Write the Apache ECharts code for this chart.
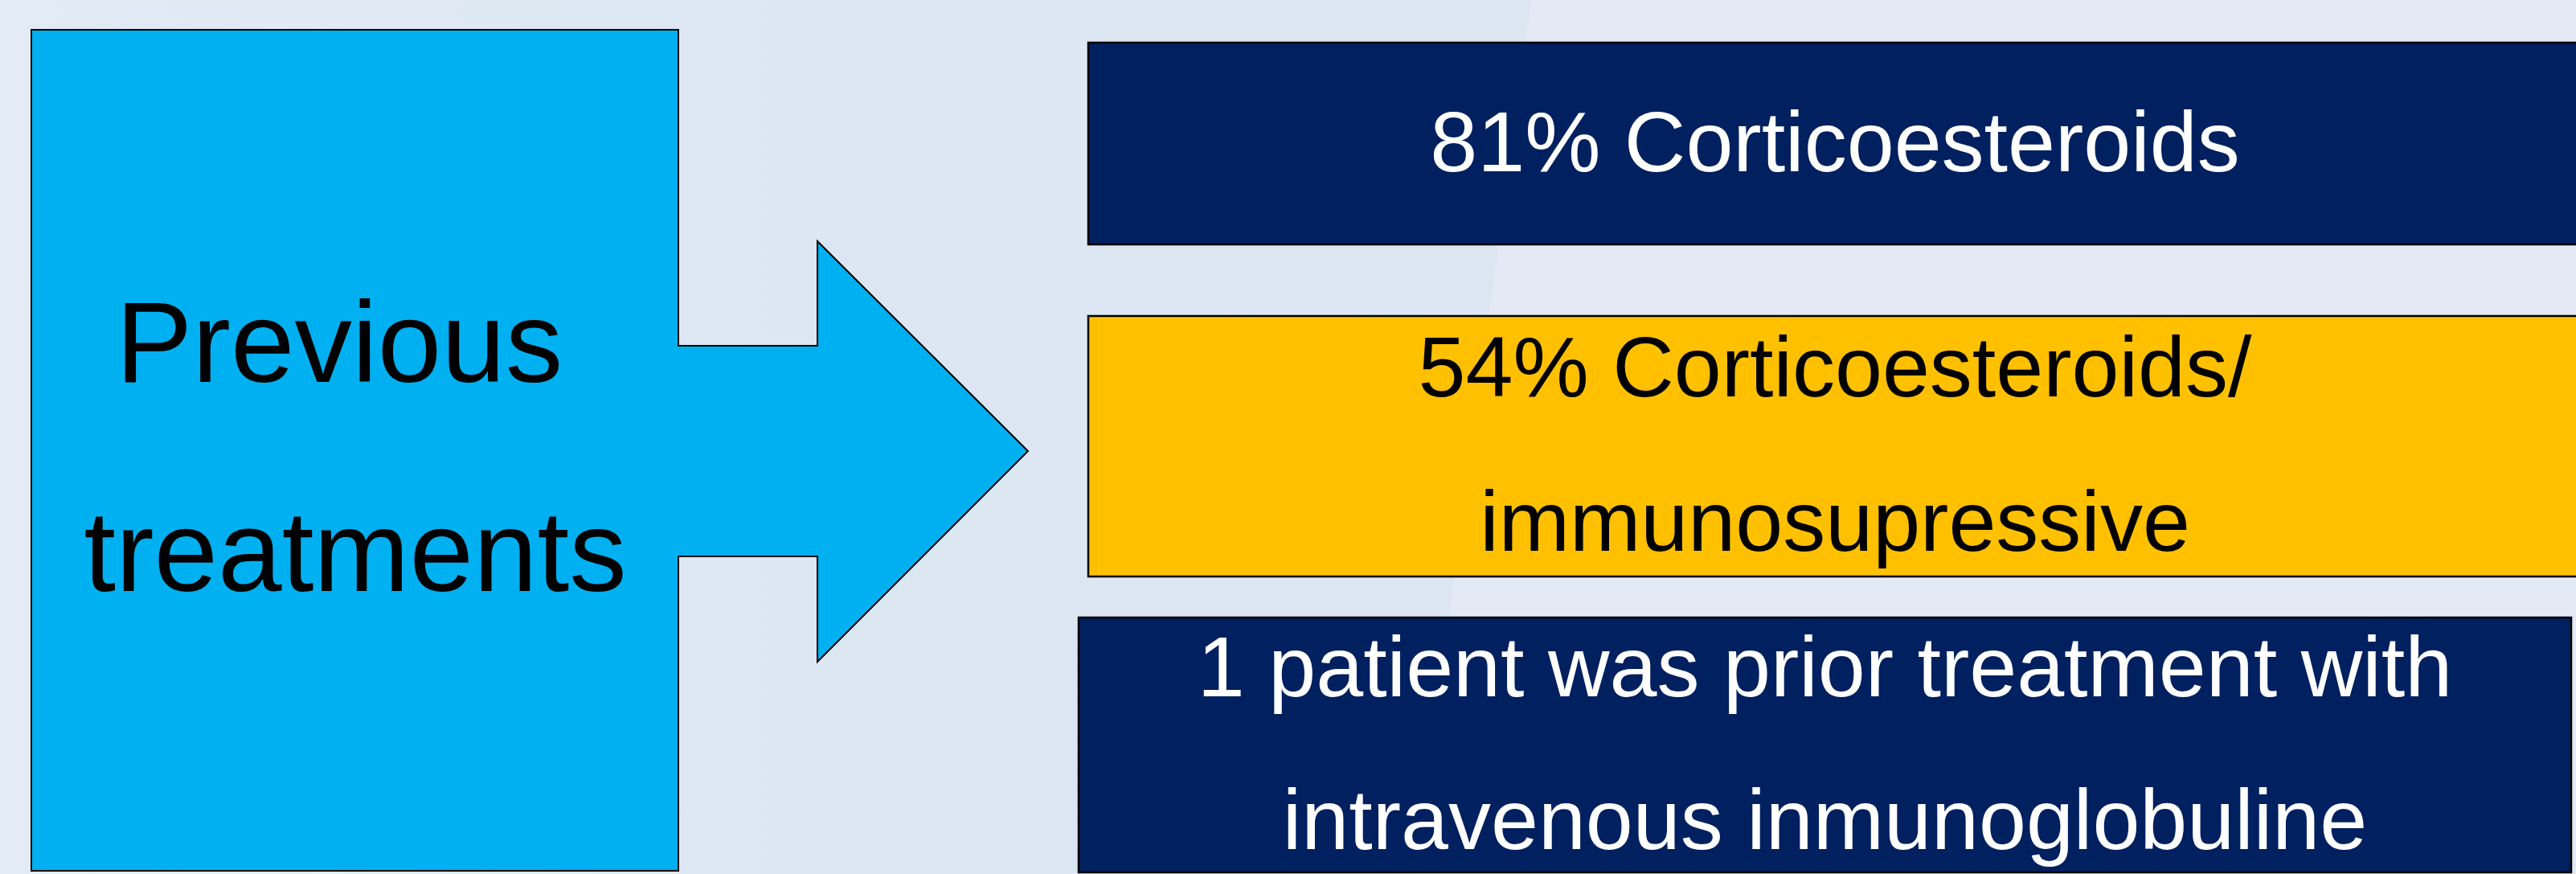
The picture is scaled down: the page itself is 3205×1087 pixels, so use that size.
<!DOCTYPE html>
<html>
<head>
<meta charset="utf-8">
<script src="https://cdn.jsdelivr.net/npm/echarts@6/dist/echarts.min.js"></script>
<style>
  html, body { margin: 0; padding: 0; }
  #chart { width: 3205px; height: 1087px; }
</style>
</head>
<body>
<div id="chart"></div>
<script>
// texts
var leftLabel = ['Previous ', 'treatments'];
var boxLines = [
  ['81% Corticoesteroids'],
  ['54% Corticoesteroids/', 'immunosupressive'],
  ['1 patient was prior treatment with', 'intravenous inmunoglobuline']
];
var boxFills = ['#002060', '#FFC000', '#002060'];
var boxInk = ['#ffffff', '#000000', '#ffffff'];

// layout of the boxes on the right (left, top, right, bottom, line height)
var boxRects = [
  [1354, 53, 3212, 304, 0],
  [1354, 393, 3212, 717, 192],
  [1342, 768, 3199, 1085, 190]
];

var chart = echarts.init(document.getElementById('chart'));

var elements = [];

// background
elements.push({
  type: 'rect',
  shape: { x: 0, y: 0, width: 3205, height: 1087 },
  style: {
    fill: new echarts.graphic.LinearGradient(0, 0, 1, 0, [
      { offset: 0, color: '#e3ebf5' },
      { offset: 0.3, color: '#dce7f3' },
      { offset: 0.56, color: '#dbe6f2' },
      { offset: 1, color: '#dde7f2' }
    ])
  },
  silent: true
});
elements.push({
  type: 'polygon',
  shape: { points: [[1905, 0], [3205, 0], [3205, 1087], [1760, 1087]] },
  style: { fill: '#e3eaf5' },
  silent: true
});

// big arrow-shaped box
elements.push({
  type: 'polygon',
  shape: {
    points: [[39, 37], [844, 37], [844, 430], [1017, 430], [1017, 300],
      [1279, 561], [1017, 823], [1017, 692], [844, 692], [844, 1083], [39, 1083]]
  },
  style: { fill: '#00B0F0', stroke: '#000', lineWidth: 2 }
});
elements.push({
  type: 'text',
  x: 442, y: 566,
  style: {
    text: leftLabel.join('\n'),
    fill: '#000',
    font: '143px "Liberation Sans", Arial, sans-serif',
    lineHeight: 260,
    align: 'center',
    verticalAlign: 'middle'
  }
});

boxLines.forEach(function (lines, i) {
  var r = boxRects[i];
  elements.push({
    type: 'rect',
    shape: { x: r[0], y: r[1], width: r[2] - r[0], height: r[3] - r[1] },
    style: { fill: boxFills[i], stroke: '#000', lineWidth: 2.5 }
  });
  elements.push({
    type: 'text',
    x: (r[0] + r[2]) / 2,
    y: (r[1] + r[3]) / 2 + 5,
    style: {
      text: lines.join('\n'),
      fill: boxInk[i],
      font: '106px "Liberation Sans", Arial, sans-serif',
      lineHeight: r[4] || 120,
      align: 'center',
      verticalAlign: 'middle'
    }
  });
});

chart.setOption({
  animation: false,
  graphic: { elements: elements }
});
</script>
</body>
</html>
